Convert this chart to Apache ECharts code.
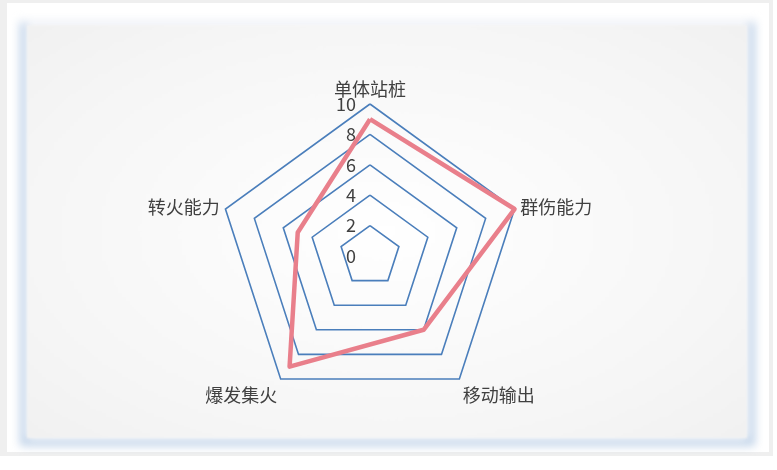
<!DOCTYPE html>
<html>
<head>
<meta charset="utf-8">
<script src="https://cdn.jsdelivr.net/npm/echarts@6/dist/echarts.min.js"></script>
<style>
  html, body { margin: 0; padding: 0; background: #ffffff; width: 777px; height: 470px; overflow: hidden; }
  #frame { position: absolute; left: 0; top: 0; width: 762px; height: 449px; border-top: 3px solid #efefef; border-left: 7px solid #efefef; border-right: 4px solid #efefef; border-bottom: 4px solid #efefef; background: #ffffff; }
  #glow { position: absolute; left: 20px; top: 20px; width: 735px; height: 426px; border: 7px solid rgba(170,195,225,0.75); border-top-color: rgba(220,228,240,0.5); filter: blur(4px); box-sizing: border-box; }
  #card { position: absolute; left: 27px; top: 25px; width: 720px; height: 413px; background: radial-gradient(ellipse at center, #ffffff 0%, #f6f6f6 70%, #f1f1f1 100%); filter: blur(1px); }
  #chart { position: absolute; left: 0; top: 0; width: 777px; height: 470px; }
</style>
</head>
<body>
<div id="frame"></div>
<div id="glow"></div>
<div id="card"></div>
<div id="chart"></div>
<script>
// Indicators in ECharts drawing order (counter-clockwise from top)
const indicators = ['单体站桩', '转火能力', '爆发集火', '移动输出', '群伤能力'];
const maxValue = 10;
const values = [9, 5, 9, 6, 10];
const tickLabels = [0, 2, 4, 6, 8, 10];
const bottomNames = ['爆发集火', '移动输出'];

const chart = echarts.init(document.getElementById('chart'), null, { renderer: 'canvas' });
const font = '"Noto Sans CJK SC", "Microsoft YaHei", sans-serif';
const C = [370, 256], R = 152;
chart.setOption({
  backgroundColor: 'transparent',
  animation: false,
  radar: {
    center: C,
    radius: R,
    startAngle: 90,
    shape: 'polygon',
    splitNumber: tickLabels.length - 1,
    indicator: indicators.map(n => ({ name: n, max: maxValue, min: 0 })),
    axisName: {
      color: '#404040', fontSize: 18, fontFamily: font,
      formatter: (name) => bottomNames.includes(name) ? '{b|' + name + '}' : name,
      rich: { b: { color: '#404040', fontSize: 18, fontFamily: font, padding: [22, 0, 0, 0] } }
    },
    nameGap: 6,
    splitLine: { lineStyle: { color: '#4a7ebb', width: 1.6 } },
    splitArea: { show: false },
    axisLine: { show: false },
    axisTick: { show: false },
    axisLabel: { show: false }
  },
  polar: { center: C, radius: R },
  angleAxis: { show: false, startAngle: 90, min: 0, max: 360 },
  radiusAxis: {
    type: 'value',
    min: tickLabels[0],
    max: tickLabels[tickLabels.length - 1],
    interval: tickLabels[1] - tickLabels[0],
    axisLine: { show: false },
    axisTick: { show: false },
    splitLine: { show: false },
    axisLabel: { color: '#404040', fontSize: 18, fontFamily: font, margin: 14 }
  },
  series: [{
    type: 'radar',
    symbol: 'none',
    lineStyle: { color: '#e97f8b', width: 4.5 },
    data: [{ value: values }]
  }]
});
</script>
</body>
</html>
